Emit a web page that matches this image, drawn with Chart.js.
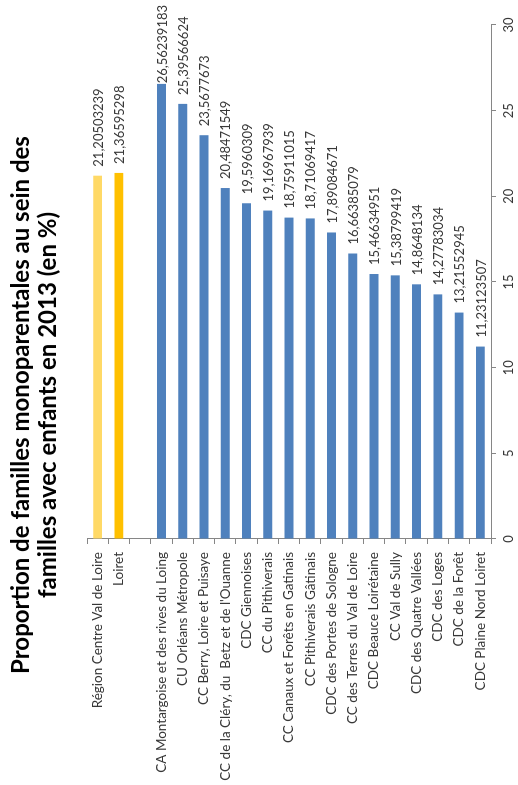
<!DOCTYPE html>
<html><head><meta charset="utf-8">
<script src="https://cdn.jsdelivr.net/npm/chart.js@4/dist/chart.umd.min.js"></script>
<style>
html,body{margin:0;padding:0;width:518px;height:785px;overflow:hidden;background:#fff}
#wrap{position:absolute;left:0;top:0;width:785px;height:518px;transform-origin:0 0;transform:translate(0,785px) rotate(-90deg);background:#fff}
canvas{display:block}
</style></head><body>
<div id="wrap"><canvas id="c" width="785" height="518"></canvas></div>
<script>
const titleLines = ["Proportion de familles monoparentales au sein des", "familles avec enfants en 2013 (en %)"];
const categories = [
  "Région Centre Val de Loire",
  "Loiret",
  "",
  "CA Montargoise et des rives du Loing",
  "CU Orléans Métropole",
  "CC Berry, Loire et Puisaye",
  "CC de la Cléry, du  Betz et de l'Ouanne",
  "CDC Giennoises",
  "CC du Pithiverais",
  "CC Canaux et Forêts en Gatinais",
  "CC Pithiverais Gâtinais",
  "CDC des Portes de Sologne",
  "CC des Terres du Val de Loire",
  "CDC Beauce Loirétaine",
  "CC Val de Sully",
  "CDC des Quatre Vallées",
  "CDC des Loges",
  "CDC de la Forêt",
  "CDC Plaine Nord Loiret"
];
const values = [
  21.20503239, 21.36595298, null,
  26.56239183, 25.39566624, 23.5677673, 20.48471549, 19.5960309, 19.16967939,
  18.75911015, 18.71069417, 17.89084671, 16.66385079, 15.46634951, 15.38799419,
  14.8648134, 14.27783034, 13.21552945, 11.23123507
];
const barColors = [
  "#FFD966", "#FFC000", "#4F81BD",
  "#4F81BD", "#4F81BD", "#4F81BD", "#4F81BD", "#4F81BD", "#4F81BD",
  "#4F81BD", "#4F81BD", "#4F81BD", "#4F81BD", "#4F81BD", "#4F81BD",
  "#4F81BD", "#4F81BD", "#4F81BD", "#4F81BD"
];
const valueAxisMin = 0;
const valueAxisMax = 30;
const valueAxisStep = 5;

const FONT = "Lato";
const TEXT = "#383838";
const AXIS = "#868686";

const valueLabels = {
  id: "valueLabels",
  afterDatasetsDraw(chart) {
    const ctx = chart.ctx;
    const meta = chart.getDatasetMeta(0);
    ctx.save();
    ctx.font = "13px " + FONT;
    ctx.fillStyle = TEXT;
    ctx.textBaseline = "middle";
    ctx.textAlign = "left";
    meta.data.forEach((bar, i) => {
      const v = values[i];
      if (v === null || v === undefined) return;
      const t = String(v).replace(".", ",");
      const w = ctx.measureText(t).width;
      let x = bar.x + 9;
      if (x + w > chart.width - 5) x = chart.width - 5 - w;
      ctx.fillText(t, x, bar.y + 1);
    });
    ctx.restore();
  }
};

function draw() {
  new Chart(document.getElementById("c"), {
    type: "bar",
    data: {
      labels: categories,
      datasets: [{
        data: values,
        backgroundColor: barColors,
        borderWidth: 0,
        categoryPercentage: 1,
        barPercentage: 0.42
      }]
    },
    options: {
      indexAxis: "y",
      responsive: false,
      animation: false,
      events: [],
      layout: { padding: { top: 0, left: 0, right: 25, bottom: 0 } },
      plugins: {
        legend: { display: false },
        tooltip: { enabled: false },
        title: {
          display: true,
          text: titleLines,
          color: "#000",
          font: { family: FONT, size: 24, weight: "bold", lineHeight: 1.15 },
          padding: { top: 7, bottom: 24.8 }
        }
      },
      scales: {
        x: {
          min: valueAxisMin,
          max: valueAxisMax,
          afterFit(s) { s.height = 27; },
          ticks: { stepSize: valueAxisStep, color: TEXT, font: { family: FONT, size: 13 }, padding: 5, maxRotation: 0 },
          grid: { drawOnChartArea: false, drawTicks: true, tickLength: 5, color: AXIS },
          border: { display: true, color: AXIS, width: 1 }
        },
        y: {
          offset: true,
          afterFit(s) { s.width = 246; },
          ticks: { autoSkip: false, color: TEXT, font: { family: FONT, size: 13.5 }, padding: 8 },
          grid: { offset: true, drawOnChartArea: false, drawTicks: true, tickLength: 5, color: AXIS },
          border: { display: true, color: AXIS, width: 1 }
        }
      }
    },
    plugins: [valueLabels]
  });
}
if (document.fonts && document.fonts.load) {
  Promise.all([document.fonts.load("13px Lato"), document.fonts.load("bold 24px Lato")]).then(draw, draw);
} else { draw(); }
</script>
</body></html>
